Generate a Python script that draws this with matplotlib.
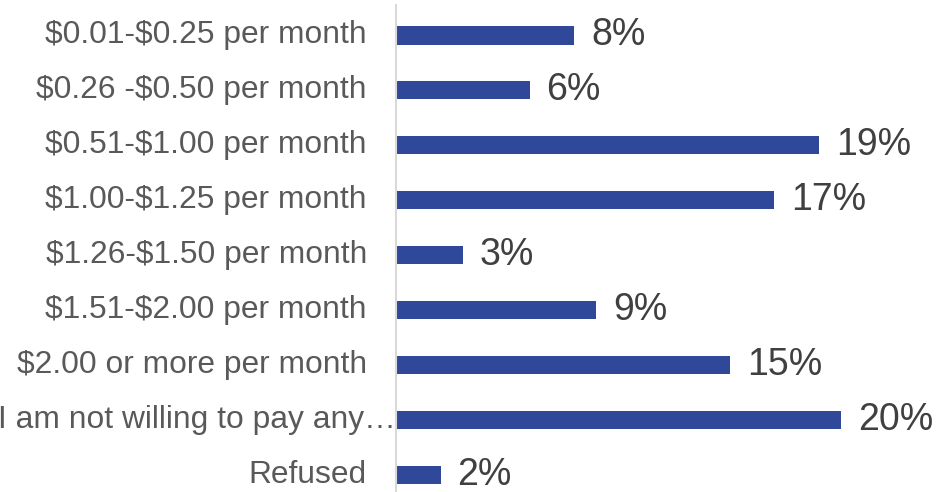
import matplotlib
matplotlib.use("Agg")
from matplotlib import pyplot as plt
from matplotlib import transforms

categories = ["$0.01-$0.25 per month", "$0.26 -$0.50 per month", "$0.51-$1.00 per month",
              "$1.00-$1.25 per month", "$1.26-$1.50 per month", "$1.51-$2.00 per month",
              "$2.00 or more per month", "I am not willing to pay any\u2026", "Refused"]
values = [8, 6, 19, 17, 3, 9, 15, 20, 2]
value_labels = ["8%", "6%", "19%", "17%", "3%", "9%", "15%", "20%", "2%"]

plt.rcParams['font.family'] = ['Liberation Sans', 'DejaVu Sans']
plt.rcParams['text.parse_math'] = False

fig = plt.figure(figsize=(9.37, 4.92), dpi=100)
ax = fig.add_axes([396 / 937, 0, 1 - 396 / 937, 487 / 492])

pos = range(len(categories))
ax.barh(pos, values, height=0.33, color='#2F489A')

ax.set_xlim(0, 24.3)
ax.set_ylim(8.31, -0.555)

for s in ['top', 'right', 'bottom']:
    ax.spines[s].set_visible(False)
ax.spines['left'].set_color('#D9D9D9')
ax.spines['left'].set_linewidth(1.5)
ax.set_xticks([])
ax.set_yticks([])

lab_trans = transforms.blended_transform_factory(ax.transAxes, ax.transData)
for i, (cat, v, vl) in enumerate(zip(categories, values, value_labels)):
    off = 0 if cat.endswith('\u2026') else -29
    t = transforms.offset_copy(lab_trans, fig=fig, x=off, y=0, units='dots')
    ax.text(0, i, cat, transform=t, ha='right', va='center', fontsize=22.9,
            color='#595959', clip_on=False)
    ax.annotate(vl, (v, i), xytext=(17, 0), textcoords='offset pixels',
                ha='left', va='center', fontsize=27, color='#404040')

fig.savefig("out.png", dpi=100)
